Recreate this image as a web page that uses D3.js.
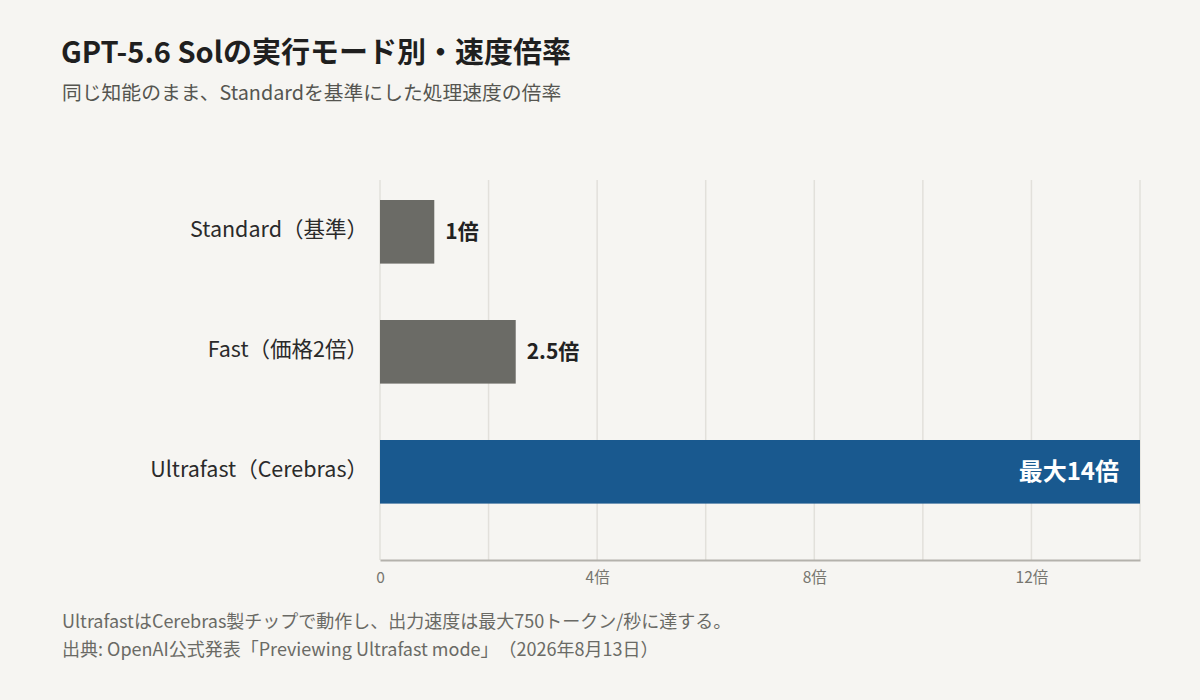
<!DOCTYPE html>
<html>
<head>
<meta charset="utf-8">
<script src="https://cdn.jsdelivr.net/npm/d3@7"></script>
<style>
  body { margin: 0; background: #f6f5f2; }
  svg { display: block; font-family: "Noto Sans CJK JP", "Noto Sans", sans-serif; text-spacing-trim: space-all; }
  .title { font-size: 29px; font-weight: 700; fill: #1f1f1f; }
  .subtitle { font-size: 19.8px; fill: #555550; }
  .cat { font-size: 21.5px; fill: #2a2a2a; }
  .val { font-size: 21px; font-weight: 700; }
  .val.hi { font-size: 24px; }
  .note { font-size: 18px; fill: #6a6a65; }
</style>
</head>
<body>
<svg id="chart" width="1200" height="700"></svg>
<script>
// data
const categories = ["Standard（基準）", "Fast（価格2倍）", "Ultrafast（Cerebras）"];
const speedups = [1, 2.5, 14];
const valueLabels = ["1倍", "2.5倍", "最大14倍"];
const highlight = [false, false, true];
const gridValues = [0, 2, 4, 6, 8, 10, 12, 14];
const tickValues = [0, 4, 8, 12];
const notes = [
  "UltrafastはCerebras製チップで動作し、出力速度は最大750トークン/秒に達する。",
  "出典: OpenAI公式発表「Previewing Ultrafast mode」（2026年8月13日）"
];

const padding = { top: 180, right: 60, bottom: 140, left: 380 };
const width = 1200, height = 700;
const innerWidth = width - padding.left - padding.right;
const innerHeight = height - padding.top - padding.bottom;

const svg = d3.select("#chart");

svg.append("rect").attr("width", width).attr("height", height).attr("fill", "#f6f5f2");

svg.append("text").attr("class", "title").attr("x", 61).attr("y", 63)
  .text("GPT-5.6 Solの実行モード別・速度倍率");
svg.append("text").attr("class", "subtitle").attr("x", 62).attr("y", 100)
  .text("同じ知能のまま、Standardを基準にした処理速度の倍率");

const g = svg.append("g").attr("transform", `translate(${padding.left},${padding.top})`);

const x = d3.scaleLinear().domain([0, 14]).range([0, innerWidth]);
const y = d3.scaleBand().domain(categories).range([20, innerHeight])
  .paddingInner(0.47).paddingOuter(0.235).align(0);

// grid
g.selectAll(".grid").data(gridValues).enter().append("line")
  .attr("class", "grid")
  .attr("x1", d => x(d)).attr("x2", d => x(d))
  .attr("y1", 0).attr("y2", innerHeight)
  .attr("stroke", "#e2e0db").attr("stroke-width", 1.5);

// bars
const data = categories.map((c, i) => ({ cat: c, v: speedups[i], label: valueLabels[i], hi: highlight[i] }));

g.selectAll(".bar").data(data).enter().append("rect")
  .attr("class", "bar")
  .attr("x", x(0))
  .attr("y", d => y(d.cat))
  .attr("width", d => x(d.v) - x(0))
  .attr("height", y.bandwidth())
  .attr("fill", d => d.hi ? "#19598f" : "#6b6b66");

g.selectAll(".val").data(data).enter().append("text")
  .attr("class", d => d.hi ? "val hi" : "val")
  .attr("x", d => d.hi ? x(d.v) - 21 : x(d.v) + 11)
  .attr("y", d => y(d.cat) + y.bandwidth() / 2)
  .attr("dy", "0.35em")
  .attr("text-anchor", d => d.hi ? "end" : "start")
  .style("fill", d => d.hi ? "#ffffff" : "#222")
  .text(d => d.label);

// category labels
g.selectAll(".cat").data(data).enter().append("text")
  .attr("class", "cat")
  .attr("x", -12)
  .attr("y", d => y(d.cat) + y.bandwidth() / 2)
  .attr("dy", "0.22em")
  .attr("text-anchor", "end")
  .text(d => d.cat);

// x axis
const xAxis = d3.axisBottom(x)
  .tickValues(tickValues)
  .tickSize(0)
  .tickPadding(12)
  .tickFormat(d => d === 0 ? "0" : d + "倍");

const ax = g.append("g").attr("class", "axis")
  .attr("transform", `translate(0,${innerHeight})`)
  .call(xAxis)
  .attr("font-family", null)
  .attr("font-size", 15.5);
ax.selectAll("text").attr("fill", "#77766f");
ax.select(".domain").attr("stroke", "#b4b2ac").attr("stroke-width", 2);

// footnotes
svg.selectAll(".note").data(notes).enter().append("text")
  .attr("class", "note")
  .attr("x", 62)
  .attr("y", (d, i) => 628 + i * 28)
  .text(d => d);
</script>
</body>
</html>
